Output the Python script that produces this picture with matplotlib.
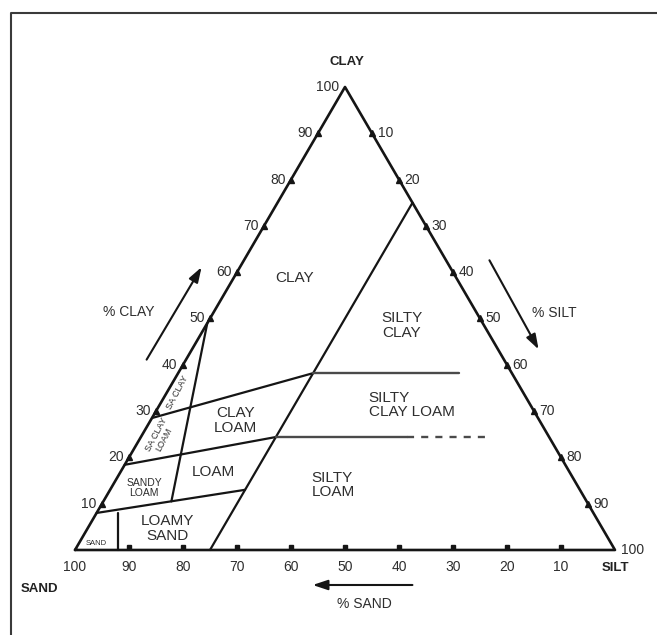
import matplotlib
matplotlib.use("Agg")
import matplotlib.pyplot as plt
from matplotlib.lines import Line2D

plt.rcParams['font.family'] = ['Liberation Sans', 'DejaVu Sans']

# ---- Texture class boundaries, as (clay %, sand %) pairs; silt = 100 - clay - sand
silt_25_line = [(0, 75), (75, 0)]
sand_box_line = [(0, 92), (8, 88)]
loamy_sand_top = [(8, 92), (13, 62)]
sandy_clay_divide = [(49, 51), (10.5, 76.9)]
sandy_loam_top = [(18.4, 81.6), (24.4, 50.6)]
clay_loam_top = [(28.5, 71.5), (38.2, 36.8)]
silty_clay_base = [(38.2, 36.8), (38.2, 9.8)]
silty_clay_loam_base = [(24.4, 50.6), (24.4, 26.4)]
silty_clay_loam_base_dashed = [(24.4, 26.4), (24.4, 10.5)]

# ---- Class names and their (clay %, sand %) anchor points
region_names = ["CLAY", "SILTY\nCLAY", "SILTY\nCLAY LOAM", "CLAY\nLOAM", "LOAM",
                "SANDY\nLOAM", "LOAMY\nSAND", "SILTY\nLOAM", "SAND"]
region_clay = [58.7, 48.5, 31.3, 28.0, 16.8, 13.4, 4.7, 14.0, 1.4]
region_sand = [30.0, 15.2, 22.0, 56.3, 65.9, 80.5, 80.5, 45.2, 95.3]
region_sizes = [11, 11, 11, 11, 11, 7.5, 11, 11, 5.5]
region_align = ["center", "center", "left", "center", "center",
                "center", "center", "left", "center"]

rotated_names = ["SA CLAY", "SA CLAY\nLOAM"]
rotated_clay = [34.0, 24.4]
rotated_sand = [64.0, 72.0]

# ---- Axis tick values
tick_values = [10, 20, 30, 40, 50, 60, 70, 80, 90, 100]


def tern(clay, sand):
    """(clay %, sand %) -> cartesian point in the triangle."""
    silt = 100.0 - clay - sand
    return (silt + 0.5 * clay) / 100.0, clay / 100.0


def draw_path(ax, pts, **kw):
    xs, ys = zip(*[tern(c, s) for c, s in pts])
    ax.plot(xs, ys, solid_capstyle='round', **kw)


fig = plt.figure(figsize=(6.57, 6.35), dpi=100)
ax = fig.add_axes([0, 0, 1, 1])
ax.set_xlim(-0.1389, 1.0778)
ax.set_ylim(-0.1836, 1.1879)
ax.axis('off')

# outer frame (left and top edges)
fig.add_artist(Line2D([11 / 657, 11 / 657, 1.0], [0.0, 1 - 13 / 635, 1 - 13 / 635],
                      transform=fig.transFigure, color='#3a3a3a', lw=1.5))

ink = '#151515'
txt = '#2e2e2e'

# triangle outline
draw_path(ax, [(0, 100), (0, 0), (100, 0), (0, 100)], color=ink, lw=1.9)

# class boundaries
for seg in [silt_25_line, sand_box_line, loamy_sand_top, sandy_clay_divide,
            sandy_loam_top, clay_loam_top]:
    draw_path(ax, seg, color=ink, lw=1.6)
for seg in [silty_clay_base, silty_clay_loam_base]:
    draw_path(ax, seg, color='#4a4a4a', lw=1.7)
draw_path(ax, silty_clay_loam_base_dashed, color='#4a4a4a', lw=1.7,
          linestyle=(0, (3, 3)))

# ticks and tick labels
tick_fs = 10
for v in tick_values:
    # left edge: % clay (silt = 0)
    x, y = tern(v, 100 - v)
    if v < 100:
        ax.plot(x, y, marker='^', ms=4, color=ink)
    ax.annotate(str(v), (x, y), xytext=(-4, 0), textcoords='offset points',
                ha='right', va='center', fontsize=tick_fs, color=txt)
    # right edge: % silt (sand = 0)
    x, y = tern(100 - v, 0)
    if v < 100:
        ax.plot(x, y, marker='^', ms=4, color=ink)
    ax.annotate(str(v), (x, y), xytext=(4, 0), textcoords='offset points',
                ha='left', va='center', fontsize=tick_fs, color=txt)
    # bottom edge: % sand (clay = 0)
    x, y = tern(0, v)
    if v < 100:
        ax.plot(x, y + 0.007, marker='s', ms=3.2, color=ink)
    ax.annotate(str(v), (x, y), xytext=(0, -12), textcoords='offset points',
                ha='center', va='center', fontsize=tick_fs, color=txt)

# corner names
ax.text(0.504, 1.054, "CLAY", ha='center', va='center', fontsize=9.5,
        fontweight='bold', color='#222222')
ax.text(-0.066, -0.084, "SAND", ha='center', va='center', fontsize=9.5,
        fontweight='bold', color='#222222')
ax.text(1.0, -0.039, "SILT", ha='center', va='center', fontsize=9.5,
        fontweight='bold', color='#222222')

# direction arrows
arrow = dict(arrowstyle='-|>,head_length=0.9,head_width=0.3', color=ink, lw=1.5)
ax.annotate("", xy=(0.237, 0.616), xytext=(0.130, 0.406), arrowprops=arrow)
ax.annotate("", xy=(0.861, 0.428), xytext=(0.765, 0.631), arrowprops=arrow)
ax.annotate("", xy=(0.435, -0.0756), xytext=(0.630, -0.0756), arrowprops=arrow)
ax.text(0.100, 0.514, "% CLAY", ha='center', va='center', fontsize=10, color=txt)
ax.text(0.887, 0.512, "% SILT", ha='center', va='center', fontsize=10, color=txt)
ax.text(0.535, -0.117, "% SAND", ha='center', va='center', fontsize=10, color=txt)

# class names
for name, c, s, fs, al in zip(region_names, region_clay, region_sand,
                              region_sizes, region_align):
    x, y = tern(c, s)
    ax.text(x, y, name, ha='center', va='center', fontsize=fs, color=txt,
            linespacing=1.05, multialignment=al)
for name, c, s in zip(rotated_names, rotated_clay, rotated_sand):
    x, y = tern(c, s)
    ax.text(x, y, name, ha='center', va='center', fontsize=6.5, color=txt,
            rotation=62, linespacing=1.0)

fig.savefig("out.png", dpi=100)
